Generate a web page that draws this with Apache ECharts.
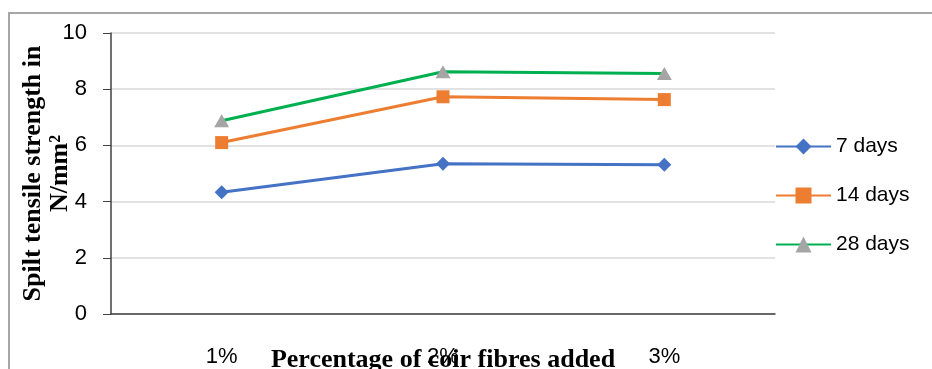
<!DOCTYPE html>
<html>
<head>
<meta charset="utf-8">
<script src="https://cdn.jsdelivr.net/npm/echarts@6/dist/echarts.min.js"></script>
<style>
html,body{margin:0;padding:0;background:#fff;}
#chart{width:932px;height:369px;}
</style>
</head>
<body>
<div id="chart"></div>
<script>
const categories = ['1%', '2%', '3%'];
const days7 = [4.33, 5.35, 5.31];
const days14 = [6.10, 7.73, 7.63];
const days28 = [6.88, 8.62, 8.56];
const yTicks = [0, 2, 4, 6, 8, 10];

const chart = echarts.init(document.getElementById('chart'), null, {renderer: 'canvas'});
const labelFont = 'Liberation Sans';
const titleFont = 'Liberation Serif';

function mk(name, data, color, symbol, size, symColor) {
  return {
    name: name, type: 'line', data: data,
    symbol: symbol, symbolSize: size,
    lineStyle: {color: color, width: 3},
    itemStyle: {color: symColor || color},
    showAllSymbol: true
  };
}

chart.setOption({
  animation: false,
  backgroundColor: '#fff',
  graphic: [{
    type: 'rect', shape: {x: 9, y: 13, width: 1000, height: 500},
    style: {fill: 'none', stroke: '#A6A6A6', lineWidth: 2}, z: -1
  }],
  grid: {left: 111, top: 33, right: 157, bottom: 55, containLabel: false, outerBoundsMode: 'none'},
  legend: {
    orient: 'vertical', left: 775, top: 136, padding: 0,
    itemWidth: 55, itemHeight: 20, itemGap: 28,
    textStyle: {fontFamily: labelFont, fontSize: 21, color: '#000', padding: [0,0,0,0]},
    data: ['7 days', '14 days', '28 days']
  },
  xAxis: {
    type: 'category', data: categories, boundaryGap: true,
    name: 'Percentage of coir fibres added', nameLocation: 'middle', nameGap: 33,
    nameMoveOverlap: false,
    nameTextStyle: {fontFamily: titleFont, fontWeight: 'bold', fontSize: 26, color: '#000'},
    axisLine: {lineStyle: {color: '#404040', width: 1.5}},
    axisTick: {show: false},
    axisLabel: {margin: 32, fontFamily: labelFont, fontSize: 22, color: '#000'}
  },
  yAxis: {
    type: 'value', min: 0, max: 10, interval: 2,
    name: 'Spilt tensile strength in\nN/mm²', nameLocation: 'middle', nameRotate: 90, nameGap: 37,
    nameMoveOverlap: false,
    nameTextStyle: {fontFamily: titleFont, fontWeight: 'bold', fontSize: 26, color: '#000', lineHeight: 27},
    axisLine: {show: true, lineStyle: {color: '#404040', width: 1.5}},
    axisTick: {show: true, length: 8, lineStyle: {color: '#404040'}},
    axisLabel: {margin: 24, fontFamily: labelFont, fontSize: 22, color: '#000',
      formatter: function (v) { return yTicks.indexOf(v) >= 0 ? String(v) : ''; }},
    splitLine: {lineStyle: {color: '#D9D9D9', width: 1.5}}
  },
  series: [
    mk('7 days', days7, '#4472C4', 'diamond', 14),
    mk('14 days', days14, '#ED7D31', 'rect', 13),
    mk('28 days', days28, '#00B050', 'triangle', [15, 13], '#A5A5A5')
  ]
});
</script>
</body>
</html>
